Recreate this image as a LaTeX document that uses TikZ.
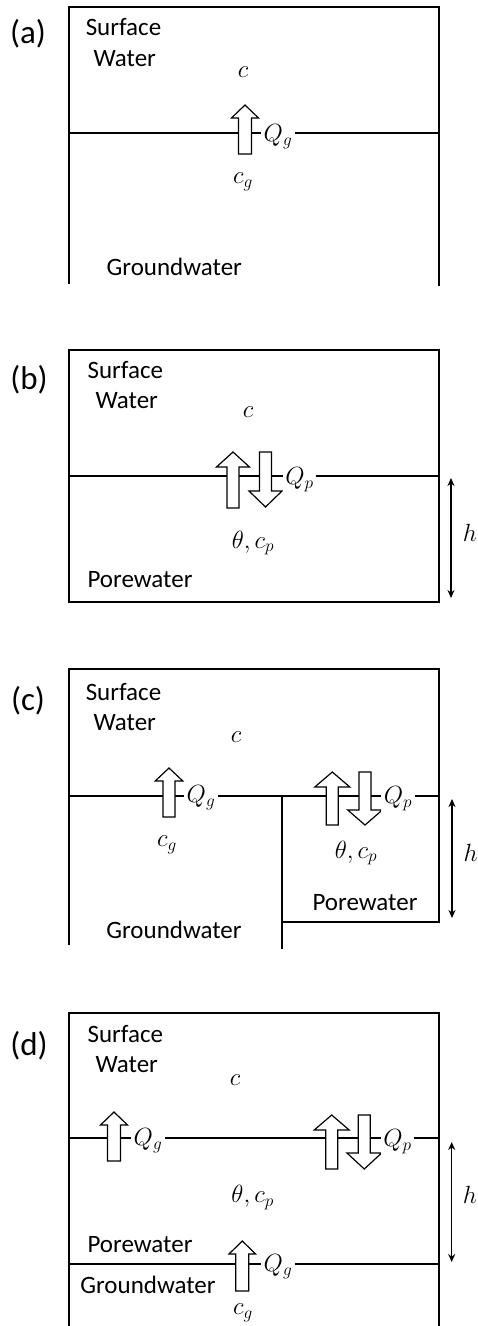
\documentclass[tikz,border=0pt]{standalone}
\usepackage[no-math]{fontspec}
\setmainfont{Carlito}
\usetikzlibrary{arrows.meta}
\tikzset{
  frame/.style={line width=1.1pt},
  thickline/.style={line width=1.6pt},
  flux/.style={draw, line width=1.2pt, fill=white, line join=miter},
  txt/.style={anchor=base, inner sep=0pt, font=\fontsize{25}{30}\selectfont},
  panel/.style={anchor=base, inner sep=0pt, font=\fontsize{33}{40}\selectfont},
  sym/.style={inner sep=0pt, font=\fontsize{26.5}{32}\selectfont},
  qlab/.style={fill=white, inner sep=2.5pt, font=\fontsize{26.5}{32}\selectfont},
  dimline/.style={line width=1.3pt, {Stealth[length=8pt,width=7pt]}-{Stealth[length=8pt,width=7pt]}},
}
% #1 x, #2 tip y, #3 bottom y, #4 half shaft, #5 half head, #6 head height
\newcommand\UpArr[6]{\path[flux] ({#1-#4},#3) -- ({#1-#4},{#2+#6}) -- ({#1-#5},{#2+#6}) -- (#1,#2) -- ({#1+#5},{#2+#6}) -- ({#1+#4},{#2+#6}) -- ({#1+#4},#3) -- cycle;}
% #1 x, #2 top y, #3 tip y, #4 half shaft, #5 half head, #6 head height
\newcommand\DnArr[6]{\path[flux] ({#1-#4},#2) -- ({#1-#4},{#3-#6}) -- ({#1-#5},{#3-#6}) -- (#1,#3) -- ({#1+#5},{#3-#6}) -- ({#1+#4},{#3-#6}) -- ({#1+#4},#2) -- cycle;}
\begin{document}
\begin{tikzpicture}[x=1pt,y=-1pt]
\useasboundingbox (0,0) rectangle (477,1326);

% ---------------- (a)
\draw[frame] (69,284) -- (69,7) -- (439,7) -- (439,286);
\draw[frame] (69,133) -- (439,133);
\UpArr{245}{105}{154}{6.5}{13.5}{13}
\node[panel] (la) at (28,43) {(a)};
\node[txt] (sa1) at (123.5,35) {Surface};
\node[txt] (sa2) at (124.7,66) {Water};
\node[sym] (ca) at (243,72) {$c$};
\node[qlab] (qa) at (278,137) {$Q_g$};
\node[sym] (cga) at (243,182) {$c_g$};
\node[txt] (ga) at (174.3,275) {Groundwater};

% ---------------- (b)
\draw[frame] (69,350) rectangle (439,602);
\draw[thickline] (69,476) -- (439,476);
\UpArr{233}{452}{508}{6}{16.5}{15}
\DnArr{265.5}{452}{507}{6}{16.5}{16}
\node[panel] (lb) at (29,389) {(b)};
\node[txt] (sb1) at (125.3,378) {Surface};
\node[txt] (sb2) at (126.7,408) {Water};
\node[sym] (cb) at (248,412) {$c$};
\node[qlab] (qb) at (299.5,480) {$Q_p$};
\node[sym] (tb) at (253,543) {$\theta, c_p$};
\node[txt] (pb) at (140,587) {Porewater};
\coordinate (hb1) at (451,478);
\coordinate (hb2) at (451,598);
\draw[dimline] (hb1) -- (hb2);
\node[sym] (hb) at (470,533) {$h$};

% ---------------- (c)
\draw[frame] (69,945) -- (69,669) -- (439,669) -- (439,922) -- (282,922);
\draw[frame] (69,796) -- (439,796);
\draw[frame] (282,796) -- (282,949);
\UpArr{169}{768}{817}{6}{13.8}{13}
\UpArr{332.3}{772}{825}{6}{17.5}{15}
\DnArr{365}{772}{825}{6}{17.3}{15}
\node[panel] (lc) at (28,710) {(c)};
\node[txt] (sc1) at (123.5,700) {Surface};
\node[txt] (sc2) at (124.7,730) {Water};
\node[sym] (cc) at (236,737.5) {$c$};
\node[qlab] (qgc) at (201,798) {$Q_g$};
\node[sym] (cgc) at (167,845) {$c_g$};
\node[qlab] (qpc) at (398,799) {$Q_p$};
\node[sym] (tc) at (356,853) {$\theta, c_p$};
\node[txt] (pc) at (365,910) {Porewater};
\node[txt] (gc) at (174,938) {Groundwater};
\coordinate (hc1) at (452,799);
\coordinate (hc2) at (452,918);
\draw[dimline] (hc1) -- (hc2);
\node[sym] (hc) at (470.7,853) {$h$};

% ---------------- (d)
\draw[frame] (69,1326) -- (69,1013) -- (439,1013) -- (439,1326);
\draw[thickline] (69,1138) -- (439,1138);
\draw[frame] (69,1264) -- (439,1264);
\UpArr{114}{1112}{1161}{6.5}{13.5}{13}
\UpArr{331.7}{1115}{1169}{6}{17.5}{15}
\DnArr{364.3}{1115}{1169}{6}{17.3}{16}
\UpArr{242.3}{1241}{1291}{6.5}{13.3}{13}
\node[panel] (ld) at (29,1055) {(d)};
\node[txt] (sd1) at (125.3,1042) {Surface};
\node[txt] (sd2) at (126.7,1072) {Water};
\node[sym] (cd) at (235,1080) {$c$};
\node[qlab] (qgd1) at (148,1141) {$Q_g$};
\node[qlab] (qpd) at (397.5,1142) {$Q_p$};
\node[sym] (td) at (252.7,1197.5) {$\theta, c_p$};
\node[txt] (pd) at (140,1252) {Porewater};
\node[qlab] (qgd2) at (278,1267) {$Q_g$};
\node[txt] (gd) at (148,1293) {Groundwater};
\node[sym] (cgd) at (243,1313) {$c_g$};
\coordinate (hd1) at (451.7,1142);
\coordinate (hd2) at (451.7,1262);
\draw[dimline] (hd1) -- (hd2);
\node[sym] (hd) at (470,1195) {$h$};
\end{tikzpicture}
\end{document}
